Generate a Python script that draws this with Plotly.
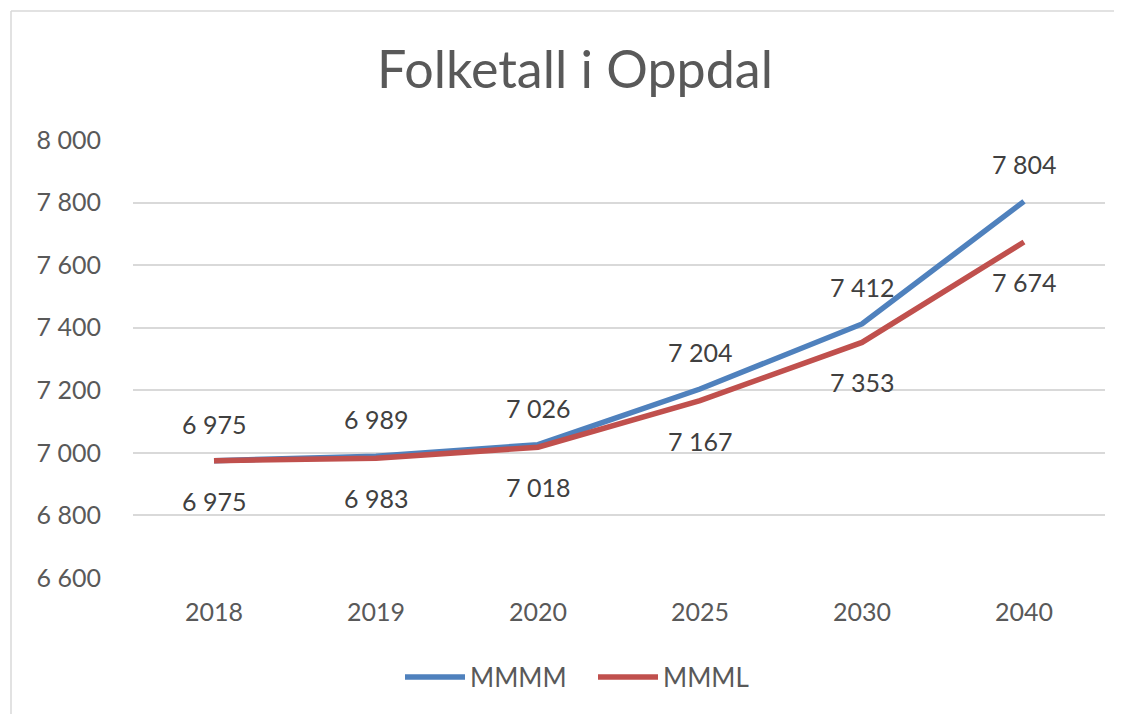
import plotly.graph_objects as go

years = ["2018", "2019", "2020", "2025", "2030", "2040"]
mmmm = [6975, 6989, 7026, 7204, 7412, 7804]
mmml = [6975, 6983, 7018, 7167, 7353, 7674]
y_ticks = [6600, 6800, 7000, 7200, 7400, 7600, 7800, 8000]

BLUE = "#4F81BD"
RED = "#C0504D"
FONT = "Lato"
FS = 25

def fmt(v):
    return f"{v:,}".replace(",", " ")

xpos = list(range(len(years)))

fig = go.Figure()
fig.add_trace(go.Scatter(x=xpos, y=mmmm, mode="lines", name="MMMM",
                         line=dict(color=BLUE, width=5.5)))
fig.add_trace(go.Scatter(x=xpos, y=mmml, mode="lines", name="MMML",
                         line=dict(color=RED, width=5.5)))

annotations = []
for x, v in zip(xpos, mmmm):
    annotations.append(dict(x=x, y=v, xref="x", yref="y", text=fmt(v),
                            showarrow=False, yshift=37,
                            font=dict(family=FONT, size=FS, color="#404040")))
for x, v in zip(xpos, mmml):
    annotations.append(dict(x=x, y=v, xref="x", yref="y", text=fmt(v),
                            showarrow=False, yshift=-40,
                            font=dict(family=FONT, size=FS, color="#404040")))

# page body has an 8px margin; figure origin sits at (8, 8) of the page
OFF = 8
W, H = 1122 - OFF, 714 - OFF
L, R, T, B = 133 - OFF, 17, 140 - OFF, 136
pw, ph = W - L - R, H - T - B

def px_x(x):
    return (x - OFF - L) / pw

def px_y(y):
    return (H - B - (y - OFF)) / ph

shapes = [
    dict(type="line", xref="paper", yref="paper", x0=px_x(11), x1=px_x(1122),
         y0=px_y(11), y1=px_y(11), line=dict(color="#D9D9D9", width=1.5)),
    dict(type="line", xref="paper", yref="paper", x0=px_x(11), x1=px_x(11),
         y0=px_y(11), y1=px_y(714), line=dict(color="#D9D9D9", width=1.5)),
]

fig.update_layout(
    width=W, height=H,
    margin=dict(l=L, r=R, t=T, b=B, autoexpand=False),
    paper_bgcolor="white", plot_bgcolor="white",
    title=dict(text="Folketall i Oppdal", x=px_x(575), xanchor="center",
               xref="paper", y=1 - (70 - OFF) / H, yanchor="middle",
               font=dict(family=FONT, size=52, color="#595959")),
    font=dict(family=FONT, size=FS, color="#595959"),
    showlegend=True,
    legend=dict(orientation="h", x=px_x(400), xanchor="left",
                y=px_y(677), yanchor="middle",
                font=dict(family=FONT, size=26, color="#595959"),
                itemwidth=60, tracegroupgap=0, entrywidth=118,
                entrywidthmode="pixels"),
    annotations=annotations,
    shapes=shapes,
)
fig.update_xaxes(range=[-0.5, len(years) - 0.5], tickvals=xpos, ticktext=years,
                 showgrid=False, showline=False, zeroline=False, ticks="",
                 automargin=False, ticklabelstandoff=17,
                 tickfont=dict(family=FONT, size=FS, color="#595959"))
fig.update_yaxes(range=[6600, 8000], tickvals=y_ticks,
                 ticktext=[fmt(t) for t in y_ticks],
                 showgrid=True, gridcolor="#D9D9D9", gridwidth=1.5,
                 zeroline=False, showline=False, ticks="", automargin=False,
                 ticklabelstandoff=31,
                 tickfont=dict(family=FONT, size=FS, color="#595959"))

fig.write_html("out.html")
